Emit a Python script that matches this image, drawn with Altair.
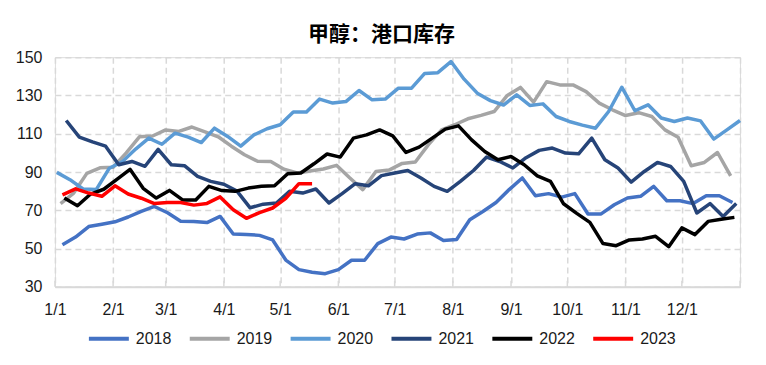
import altair as alt
import pandas as pd

years = ["2018", "2019", "2020", "2021", "2022", "2023"]
colors = ["#4472C4", "#A5A5A5", "#5B9BD5", "#264478", "#000000", "#FF0000"]
start_dates = ["2018-01-05", "2019-01-04", "2020-01-02", "2021-01-07", "2022-01-06", "2023-01-05"]

v2018 = [52, 56, 61.5, 62.7, 64, 66.5, 69.4, 72, 68.7, 64.3,
         64.2, 63.6, 66.8, 57.6, 57.4, 56.9, 54.5, 44, 39, 37.6,
         36.9, 39, 43.9, 43.9, 52.6, 56, 55, 57.6, 58.2, 54.2,
         54.7, 65.1, 69.4, 74.1, 80.8, 86.9, 77.6, 78.7, 76.9, 78.7,
         68.1, 68.1, 72.9, 76.4, 77.3, 82.5, 75, 75, 73.5, 77.6,
         77.6, 74.1]
v2019 = [73.5, 79, 89.3, 92.2, 92.5, 100, 108.4, 108.8, 112, 111.2,
         113.5, 111, 108.4, 103.5, 99, 95.6, 95.5, 91.5, 89.5, 90.5,
         91.6, 93.5, 87, 80.8, 90.3, 91, 94.5, 95.2, 104.3, 112,
         114.7, 117.8, 119.6, 121.6, 130, 134.2, 126.5, 137.2, 135.5, 135.5,
         132, 126, 122.5, 119.5, 121, 119, 112, 108.2, 93.3, 95,
         100.2, 88]
v2020 = [89.8, 86, 81.1, 80.8, 92, 95.5, 102, 107.7, 104.5, 110.3,
         108.2, 105.4, 112.9, 108.6, 103.5, 109.4, 112.6, 114.7, 121.3, 121.3,
         128.1, 126, 126.8, 132.6, 127.7, 128.1, 133.8, 133.8, 141.5, 141.9,
         147.7, 138.5, 131.2, 127.3, 125, 130.3, 124.8, 125.6, 119, 116.4,
         114.5, 112.9, 121.6, 134.3, 122, 125.1, 118.2, 116.4, 118.2, 116.7,
         107.2, 112, 116.9]
v2021 = [116.9, 108.2, 105.7, 103.5, 93.8, 95.5, 93, 101.8, 93.8, 93.3,
         87.7, 85.1, 83.6, 80, 71.3, 73.2, 73.8, 79.9, 79, 81.1,
         73.8, 78.7, 83.9, 82.8, 88.1, 89.5, 90.8, 86.9, 82.5, 79.9,
         85.1, 90.8, 97.8, 95.5, 92.1, 97.5, 101.3, 102.5, 99.9, 99.5,
         107.7, 96.4, 92.1, 84.7, 90.3, 95, 92.9, 85.1, 68.6, 73.5,
         66.8, 73.5]
v2022 = [76.4, 72.4, 78.5, 81, 86.2, 91.4, 81.5, 76.4, 80.4, 75.4,
         75.4, 82.5, 80.3, 79.9, 81.6, 82.6, 82.8, 89.1, 89.5, 94.3,
         99.4, 97.8, 107.7, 109.4, 112, 108.9, 100.2, 103, 107.7, 112.4,
         114.1, 106.8, 100.7, 96.4, 98.1, 93.8, 88, 85.1, 73.4, 68.4,
         63.7, 52.6, 51.5, 54.5, 55, 56.4, 51, 60.8, 57.3, 64.2,
         65.3, 66.3]
v2023 = [78.1, 81.2, 79, 77.3, 82.8, 78.5, 76.3, 73.5, 74.1, 74.1,
         72.7, 73.6, 77, 70.3, 65.8, 68.8, 71.2, 76.3, 83.9, 83.9]

series = [v2018, v2019, v2020, v2021, v2022, v2023]

month_days = [0, 31, 59, 90, 120, 151, 181, 212, 243, 273, 304, 334, 365]
month_labels = ["1/1", "2/1", "3/1", "4/1", "5/1", "6/1", "7/1", "8/1",
                "9/1", "10/1", "11/1", "12/1", ""]
y_ticks = [30, 50, 70, 90, 110, 130, 150]

rows = []
for yr, start, vals in zip(years, start_dates, series):
    dates = pd.date_range(start, periods=len(vals), freq="7D")
    jan1 = pd.Timestamp(f"{yr}-01-01")
    for d, v in zip(dates, vals):
        rows.append({"year": yr, "day": (d - jan1).days, "value": v})
df = pd.DataFrame(rows)

label_expr = ("[" + ",".join(f"'{s}'" for s in month_labels) + "][indexof(["
              + ",".join(str(d) for d in month_days) + "], datum.value)]")

W, H = 686, 230
FONT = "Liberation Sans"

lines = alt.Chart(df).mark_line(strokeWidth=3.5, strokeJoin="round").encode(
    x=alt.X("day:Q",
            scale=alt.Scale(domain=[0, 365], nice=False, zero=False),
            axis=alt.Axis(values=month_days, labelExpr=label_expr, title=None,
                          grid=True, gridDash=[6, 4], gridColor="#D9D9D9", gridWidth=1.5,
                          domainColor="#D9D9D9", domainWidth=2, ticks=False,
                          labelPadding=15, labelFontSize=16, labelFont=FONT,
                          labelColor="#1a1a1a", labelFlush=False, labelOverlap=False)),
    y=alt.Y("value:Q",
            scale=alt.Scale(domain=[30, 150], nice=False, zero=False),
            axis=alt.Axis(values=y_ticks, title=None, grid=True, gridDash=[6, 4],
                          gridColor="#D9D9D9", gridWidth=1.5, domain=False, ticks=False,
                          labelPadding=13, labelFontSize=16, labelFont=FONT,
                          labelColor="#1a1a1a")),
    color=alt.Color("year:N", scale=alt.Scale(domain=years, range=colors),
                    legend=alt.Legend(title=None, orient="none", legendX=32, legendY=260,
                                      direction="horizontal", symbolType="stroke",
                                      symbolSize=1600, symbolStrokeWidth=4,
                                      labelFontSize=16, labelFont=FONT, labelColor="#1a1a1a",
                                      columnPadding=10, labelOffset=5)),
)

tick_df = pd.DataFrame({"day": month_days})
ticks = alt.Chart(tick_df).mark_rule(color="#D9D9D9", strokeWidth=1.5).encode(
    x="day:Q", y=alt.value(H - 6), y2=alt.value(H)
)

chart = alt.layer(ticks, lines).properties(
    width=W, height=H,
    padding={"left": 7, "top": 16, "right": 16, "bottom": 5},
    title=alt.TitleParams("甲醇：港口库存", font="Noto Sans CJK SC", fontSize=21,
                          fontWeight="bold", color="#000000", anchor="middle",
                          offset=4, dx=-16),
).configure_view(stroke=None).configure(background="white")

chart.save("out.html", embed_options={"renderer": "svg", "actions": False})
